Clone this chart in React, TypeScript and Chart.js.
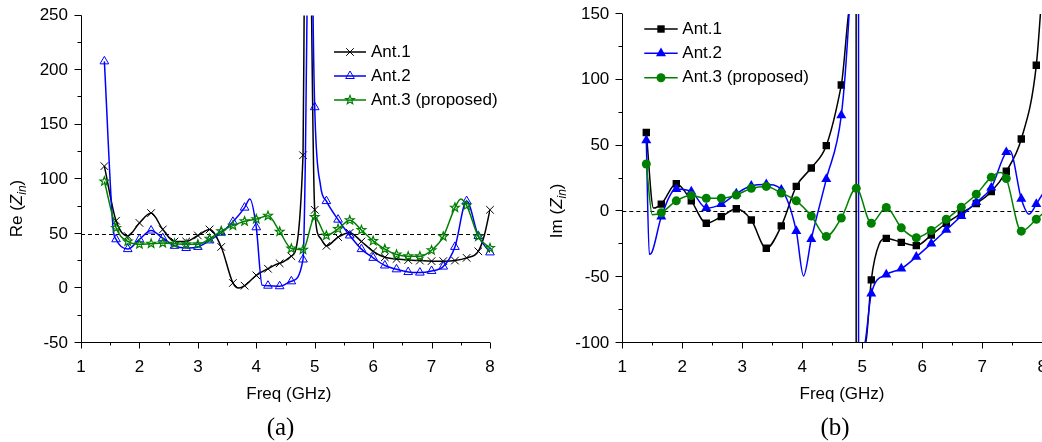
import React, { useEffect, useRef } from 'react';
import { Chart, registerables } from 'chart.js';

Chart.register(...registerables);

// ---------------- (a) Re(Zin) ----------------
const reFreq = [1.4, 1.6, 1.8, 2.0, 2.2, 2.4, 2.6, 2.8, 3.0, 3.2, 3.4, 3.6, 3.8, 4.0, 4.2, 4.4, 4.6, 4.8, 5.0, 5.2, 5.4, 5.6, 5.8, 6.0, 6.2, 6.4, 6.6, 6.8, 7.0, 7.2, 7.4, 7.6, 7.8, 8.0];
const reAnt1 = [112, 62, 48, 60, 69, 54, 43, 43, 48.5, 54, 38, 5, 2.5, 12, 18, 23, 29.5, 122, 72, 39, 47, 51, 43, 34, 28.5, 27, 26, 25.5, 25, 25, 25.5, 28, 34, 72];
const reAnt2 = [208, 45, 36, 45, 53, 46, 39, 37, 38, 44, 51, 61, 74, 56, 2.5, 2, 6.5, 26.5, 166, 80, 63, 48.5, 36, 28, 21, 17.5, 15, 14.5, 16, 20, 38, 80, 48, 33];
const reAnt3 = [98, 55.5, 43, 40.5, 41, 41.5, 41, 40.5, 40.5, 45.5, 52.5, 57.5, 61.5, 63.5, 66.5, 52, 36.5, 35.5, 65.5, 48.5, 54.5, 62.5, 53.5, 43.5, 36, 31, 29.5, 29.5, 35, 47.5, 74, 76, 47.5, 37];
// unmarked curve points (peaks, resonances)
const reAnt1ExtraFreq = [3.7, 4.82, 4.88, 4.945, 5.1, 7.9];
const reAnt1ExtraVal = [0.3, 260, 700, 260, 46, 48];
const reAnt2ExtraFreq = [1.55, 3.89, 4.1, 4.84, 4.87, 4.92, 4.97, 5.1];
const reAnt2ExtraVal = [55, 82, 3, 118, 260, 600, 260, 94];
const reAnt3ExtraFreq = [7.5];
const reAnt3ExtraVal = [82];

// ---------------- (b) Im(Zin) ----------------
const imFreq = [1.4, 1.65, 1.9, 2.15, 2.4, 2.65, 2.9, 3.15, 3.4, 3.65, 3.9, 4.15, 4.4, 4.65, 4.9, 5.15, 5.4, 5.65, 5.9, 6.15, 6.4, 6.65, 6.9, 7.15, 7.4, 7.65, 7.9];
const imAnt1 = [60, 5.5, 21, 8, -9, -4, 2, -6.5, -28, -11, 19, 33, 50, 96, null, -52, -20.5, -23.5, -26, -18, -9, -1.5, 6, 15, 30.5, 55, 111];
const imAnt2 = [54, -4, 17, 15, 2.5, 5.5, 13.5, 19.5, 20.5, 16.5, -15, -21, 24.5, 73, null, -62.5, -48, -43.5, -34.5, -24.5, -14, -3.5, 7, 18, 45, 9.5, 5.5];
const imAnt3 = [36, -1, 8, 12, 10, 10, 12.5, 17.5, 19, 14, 8, -3.5, -19, -5, 17.5, -9, 3, -12.5, -20, -14.5, -6, 3.2, 13, 26, 25, -15, -6];
const imAnt1ExtraFreq = [1.52, 4.77, 4.85, 4.89, 4.905, 4.98, 5.06, 5.28, 8.0];
const imAnt1ExtraVal = [2.5, 150, 400, 3000, -3000, -200, -99, -25, 170];
const imAnt2ExtraFreq = [1.45, 1.48, 4.02, 4.78, 4.86, 4.93, 4.945, 5.0, 5.045, 7.46, 7.78, 8.0];
const imAnt2ExtraVal = [-32.5, -32, -49, 150, 400, 3000, -3000, -180, -100, 46, -2, 13];
const imAnt3ExtraFreq = [1.5, 7.3, 8.0];
const imAnt3ExtraVal = [-2.5, 29.5, -2];

// ---------------- ticks / labels ----------------
const xTickValues = [1, 2, 3, 4, 5, 6, 7, 8];
const reYTickValues = [-50, 0, 50, 100, 150, 200, 250];
const imYTickValues = [-100, -50, 0, 50, 100, 150];
const seriesNames = ['Ant.1', 'Ant.2', 'Ant.3 (proposed)'];
const seriesColors = ['#000000', '#0000ff', '#008000'];

const FONT = '"Liberation Sans", Arial, Helvetica, sans-serif';
const SERIF = '"Liberation Serif", "Times New Roman", serif';

type Pt = { x: number; y: number; m: boolean };

function buildSeries(freq: number[], val: (number | null)[], exF: number[], exV: number[]): Pt[] {
  const pts: Pt[] = [];
  freq.forEach((f, i) => {
    const v = val[i];
    if (v !== null && v !== undefined) pts.push({ x: f, y: v, m: true });
  });
  exF.forEach((f, i) => pts.push({ x: f, y: exV[i], m: false }));
  pts.sort((a, b) => a.x - b.x);
  return pts;
}

function triPath(ctx: CanvasRenderingContext2D, x: number, y: number, r: number) {
  const c = Math.cos(Math.PI / 6) * r;
  ctx.moveTo(x, y - r);
  ctx.lineTo(x + c, y + r * 0.5);
  ctx.lineTo(x - c, y + r * 0.5);
  ctx.closePath();
}

function drawMarker(ctx: CanvasRenderingContext2D, kind: string, x: number, y: number, color: string) {
  ctx.save();
  ctx.strokeStyle = color;
  ctx.fillStyle = color;
  ctx.lineWidth = 1;
  ctx.setLineDash([]);
  ctx.beginPath();
  if (kind === 'cross') {
    const d = 3.8;
    ctx.moveTo(x - d, y - d);
    ctx.lineTo(x + d, y + d);
    ctx.moveTo(x - d, y + d);
    ctx.lineTo(x + d, y - d);
    ctx.stroke();
  } else if (kind === 'triOpen') {
    triPath(ctx, x, y, 5);
    ctx.stroke();
  } else if (kind === 'starOpen') {
    const R = 4.6;
    const r = R * 0.42;
    for (let k = 0; k < 10; k++) {
      const ang = -Math.PI / 2 + (k * Math.PI) / 5;
      const rr = k % 2 === 0 ? R : r;
      const px = x + Math.cos(ang) * rr;
      const py = y + Math.sin(ang) * rr;
      if (k === 0) ctx.moveTo(px, py);
      else ctx.lineTo(px, py);
    }
    ctx.closePath();
    ctx.lineWidth = 1.2;
    ctx.stroke();
  } else if (kind === 'square') {
    const s = 7.4;
    ctx.rect(x - s / 2, y - s / 2, s, s);
    ctx.fill();
  } else if (kind === 'triFill') {
    triPath(ctx, x, y, 5.8);
    ctx.fill();
  } else if (kind === 'circle') {
    ctx.arc(x, y, 4.5, 0, Math.PI * 2);
    ctx.fill();
  }
  ctx.restore();
}

type Spec = {
  id: string;
  left: number;
  w: number;
  padding: { left: number; top: number; right: number; bottom: number };
  yAxisWidth: number;
  xAxisHeight: number;
  yMin: number;
  yMax: number;
  yTicks: number[];
  refY: number;
  yTitle: string;
  yTitleX: number;
  yTitleY: number;
  xTitleX: number;
  xTitleY: number;
  caption: string;
  captionX: number;
  captionY: number;
  legend: { x1: number; x2: number; tx: number; rows: number[] };
  markers: string[];
  series: Pt[][];
};

const specA: Spec = {
  id: 'a',
  left: 0,
  w: 530,
  padding: { left: 0, top: 15.5, right: 40, bottom: 0 },
  yAxisWidth: 81,
  xAxisHeight: 99,
  yMin: -50,
  yMax: 250,
  yTicks: reYTickValues,
  refY: 50,
  yTitle: 'Re',
  yTitleX: 21.5,
  yTitleY: 208.5,
  xTitleX: 288.8,
  xTitleY: 398.5,
  caption: '(a)',
  captionX: 280.5,
  captionY: 434.5,
  legend: { x1: 334, x2: 366, tx: 371, rows: [52, 76, 100] },
  markers: ['cross', 'triOpen', 'starOpen'],
  series: [
    buildSeries(reFreq, reAnt1, reAnt1ExtraFreq, reAnt1ExtraVal),
    buildSeries(reFreq, reAnt2, reAnt2ExtraFreq, reAnt2ExtraVal),
    buildSeries(reFreq, reAnt3, reAnt3ExtraFreq, reAnt3ExtraVal),
  ],
};

const specB: Spec = {
  id: 'b',
  left: 540,
  w: 540,
  padding: { left: 0, top: 14, right: 37.7, bottom: 0 },
  yAxisWidth: 82.3,
  xAxisHeight: 99,
  yMin: -100,
  yMax: 150,
  yTicks: imYTickValues,
  refY: 0,
  yTitle: 'Im',
  yTitleX: 22,
  yTitleY: 210.8,
  xTitleX: 302,
  xTitleY: 398.5,
  caption: '(b)',
  captionX: 295,
  captionY: 434.5,
  legend: { x1: 104.3, x2: 137.7, tx: 142.3, rows: [29, 53.3, 77.7] },
  markers: ['square', 'triFill', 'circle'],
  series: [
    buildSeries(imFreq, imAnt1, imAnt1ExtraFreq, imAnt1ExtraVal),
    buildSeries(imFreq, imAnt2, imAnt2ExtraFreq, imAnt2ExtraVal),
    buildSeries(imFreq, imAnt3, imAnt3ExtraFreq, imAnt3ExtraVal),
  ],
};

function makePlugin(spec: Spec) {
  return {
    id: 'zin-' + spec.id,
    beforeDatasetsDraw(chart: any) {
      const { ctx, chartArea: a, scales } = chart;
      const py = Math.round(scales.y.getPixelForValue(spec.refY)) + 0.5;
      ctx.save();
      ctx.strokeStyle = '#000';
      ctx.lineWidth = 1;
      ctx.setLineDash([4, 3]);
      ctx.beginPath();
      ctx.moveTo(a.left, py);
      ctx.lineTo(a.right, py);
      ctx.stroke();
      ctx.restore();
    },
    afterDatasetDraw(chart: any, args: any) {
      const { ctx, chartArea: a } = chart;
      const i = args.index;
      const ds = chart.data.datasets[i];
      ctx.save();
      ctx.beginPath();
      ctx.rect(a.left - 6, a.top - 6, a.right - a.left + 12, a.bottom - a.top + 12);
      ctx.clip();
      args.meta.data.forEach((el: any, k: number) => {
        const raw = ds.data[k];
        if (raw && raw.m) drawMarker(ctx, spec.markers[i], el.x, el.y, seriesColors[i]);
      });
      ctx.restore();
    },
    afterDraw(chart: any) {
      const { ctx, chartArea: a, scales } = chart;
      const xs = scales.x;
      const ys = scales.y;
      const L = Math.floor(a.left) + 0.5;
      const B = Math.round(a.bottom) - 0.5;
      ctx.save();
      ctx.strokeStyle = '#000';
      ctx.lineWidth = 1;
      ctx.setLineDash([]);
      ctx.beginPath();
      ctx.moveTo(L, a.top);
      ctx.lineTo(L, B);
      ctx.lineTo(a.right, B);
      // x ticks (major at integers, minor at halves)
      for (let k = 0; k <= 14; k++) {
        const v = 1 + k * 0.5;
        const px = Math.round(xs.getPixelForValue(v)) + 0.5;
        const len = k % 2 === 0 ? 6 : 3;
        ctx.moveTo(px, B);
        ctx.lineTo(px, B + len);
      }
      // y ticks (major every 50, minor every 25)
      for (let v = spec.yMin; v <= spec.yMax; v += 25) {
        const py = Math.round(ys.getPixelForValue(v)) - 0.5;
        const len = v % 50 === 0 ? 7 : 4;
        ctx.moveTo(L - len, py);
        ctx.lineTo(L, py);
      }
      ctx.stroke();

      // x axis title
      ctx.fillStyle = '#000';
      ctx.font = '17px ' + FONT;
      ctx.textAlign = 'center';
      ctx.textBaseline = 'alphabetic';
      ctx.fillText('Freq (GHz)', spec.xTitleX, spec.xTitleY);

      // caption
      ctx.font = '25px ' + SERIF;
      ctx.fillText(spec.caption, spec.captionX, spec.captionY);

      // y axis title with italic subscript
      const parts: [string, string, number][] = [
        [spec.yTitle + ' (', '17px ' + FONT, 0],
        ['Z', 'italic 17px ' + FONT, 0],
        ['in', 'italic 12px ' + FONT, 4],
        [')', '17px ' + FONT, 0],
      ];
      let total = 0;
      const widths = parts.map(([t, f]) => {
        ctx.font = f;
        const w = ctx.measureText(t).width;
        total += w;
        return w;
      });
      ctx.save();
      ctx.translate(spec.yTitleX, spec.yTitleY);
      ctx.rotate(-Math.PI / 2);
      ctx.textAlign = 'left';
      let cx = -total / 2;
      parts.forEach(([t, f, dy], k) => {
        ctx.font = f;
        ctx.fillText(t, cx, dy);
        cx += widths[k];
      });
      ctx.restore();

      // legend
      const lg = spec.legend;
      seriesNames.forEach((name, i) => {
        const y = lg.rows[i];
        ctx.save();
        ctx.strokeStyle = seriesColors[i];
        ctx.lineWidth = 1.5;
        ctx.beginPath();
        ctx.moveTo(lg.x1, y);
        ctx.lineTo(lg.x2, y);
        ctx.stroke();
        ctx.restore();
        drawMarker(ctx, spec.markers[i], (lg.x1 + lg.x2) / 2, y, seriesColors[i]);
        ctx.fillStyle = '#000';
        ctx.font = '17px ' + FONT;
        ctx.textAlign = 'left';
        ctx.textBaseline = 'middle';
        ctx.fillText(name, lg.tx, y);
      });
      ctx.restore();
    },
  };
}

function ZinChart({ spec }: { spec: Spec }) {
  const ref = useRef<HTMLCanvasElement>(null);
  useEffect(() => {
    const canvas = ref.current;
    if (!canvas) return;
    const chart = new Chart(canvas, {
      type: 'line',
      data: {
        datasets: spec.series.map((pts, i) => ({
          label: seriesNames[i],
          data: pts as any,
          borderColor: seriesColors[i],
          backgroundColor: seriesColors[i],
          borderWidth: 1.5,
          pointRadius: 0,
          pointHoverRadius: 0,
          pointHitRadius: 0,
          cubicInterpolationMode: 'monotone',
          fill: false,
          order: 3 - i,
        })),
      },
      options: {
        animation: false,
        responsive: false,
        maintainAspectRatio: false,
        devicePixelRatio: 1,
        events: [],
        layout: { padding: spec.padding },
        plugins: {
          legend: { display: false },
          tooltip: { enabled: false },
          title: { display: false },
        },
        scales: {
          x: {
            type: 'linear',
            min: 1,
            max: 8,
            afterBuildTicks: (s: any) => {
              s.ticks = xTickValues.map((v) => ({ value: v }));
            },
            afterFit: (s: any) => {
              s.height = spec.xAxisHeight;
              s.paddingLeft = 0;
              s.paddingRight = 0;
              s.paddingTop = 0;
              s.paddingBottom = 0;
            },
            grid: { display: false, drawTicks: false },
            border: { display: false },
            ticks: {
              color: '#000',
              font: { family: FONT, size: 17 },
              padding: 14,
              autoSkip: false,
              maxRotation: 0,
              minRotation: 0,
            },
          },
          y: {
            type: 'linear',
            min: spec.yMin,
            max: spec.yMax,
            afterBuildTicks: (s: any) => {
              s.ticks = spec.yTicks.map((v) => ({ value: v }));
            },
            afterFit: (s: any) => {
              s.width = spec.yAxisWidth;
              s.paddingLeft = 0;
              s.paddingRight = 0;
              s.paddingTop = 0;
              s.paddingBottom = 0;
            },
            grid: { display: false, drawTicks: false },
            border: { display: false },
            ticks: {
              color: '#000',
              font: { family: FONT, size: 17 },
              padding: 13,
              autoSkip: false,
            },
          },
        },
      } as any,
      plugins: [makePlugin(spec)],
    });
    return () => chart.destroy();
  }, [spec]);
  return (
    <canvas
      ref={ref}
      width={spec.w}
      height={442}
      style={{ position: 'absolute', left: spec.left, top: 0, width: spec.w, height: 442 }}
    />
  );
}

export default function App() {
  return (
    <div
      style={{
        position: 'absolute',
        left: 0,
        top: 0,
        width: 1042,
        height: 442,
        overflow: 'hidden',
        background: '#ffffff',
      }}
    >
      <ZinChart spec={specA} />
      <ZinChart spec={specB} />
    </div>
  );
}
